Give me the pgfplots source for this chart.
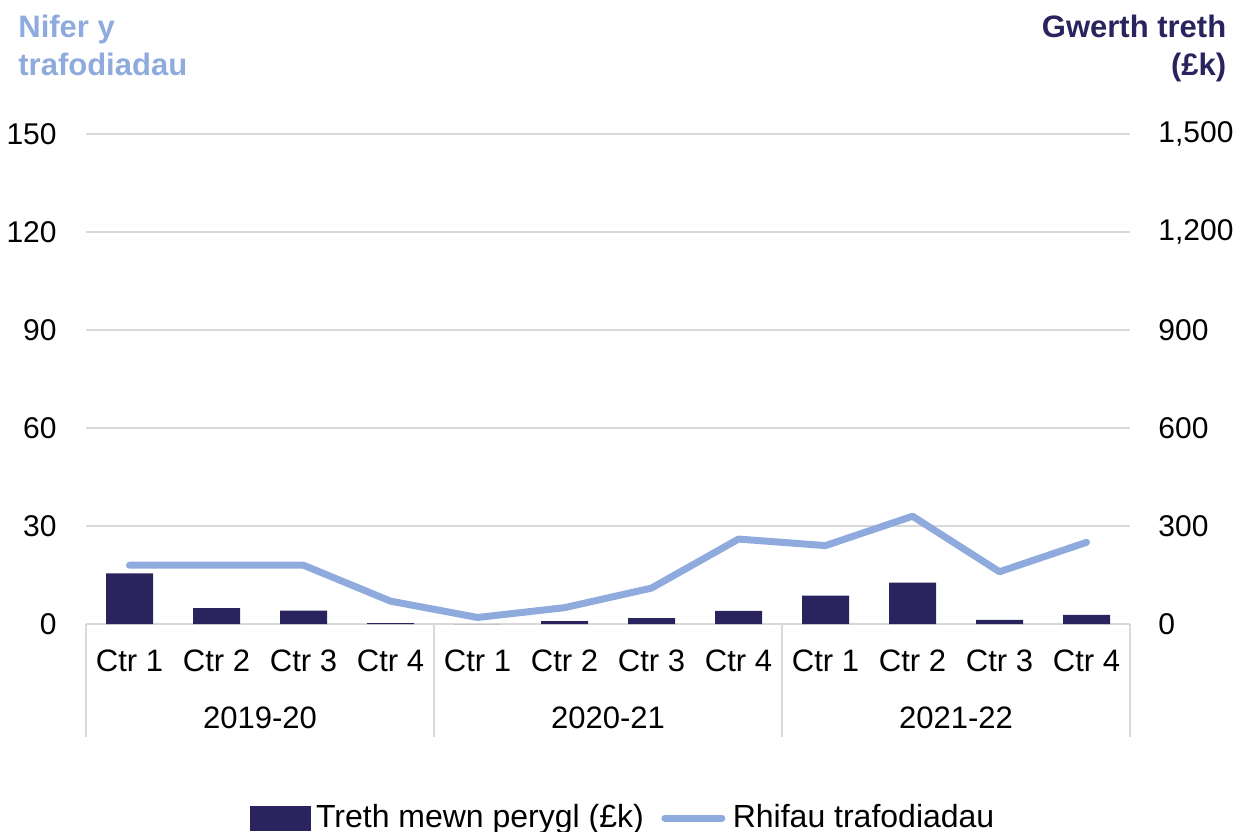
\documentclass[border=0pt]{standalone}
\usepackage{pgfplots}
\pgfplotsset{compat=1.18}
\usepackage{fontspec}
\setmainfont{Liberation Sans}
\definecolor{navy}{RGB}{41,36,94}
\definecolor{lblue}{RGB}{143,170,220}
\definecolor{gridgray}{RGB}{217,217,217}
\begin{document}
\fontsize{15}{18}\selectfont
\begin{tikzpicture}
\path[use as bounding box] (-43pt,-103.5pt) rectangle (577pt,312pt);
% bars: right axis (tax value, £k)
\begin{axis}[
  at={(0,0)}, anchor=south west,
  scale only axis, width=522pt, height=245pt,
  xmin=-0.5, xmax=11.5, ymin=0, ymax=1500,
  axis y line*=right,
  axis line style={draw=none},
  major tick length=0pt,
  ytick={0,300,600,900,1200,1500},
  yticklabel style={anchor=west, inner sep=0pt, xshift=14pt},
  /pgf/number format/1000 sep={,},
  /pgf/number format/assume math mode=true,
  ymajorgrids, grid style={gridgray, line width=0.8pt},
  xtick={0,...,11},
  xticklabels={Ctr 1,Ctr 2,Ctr 3,Ctr 4,Ctr 1,Ctr 2,Ctr 3,Ctr 4,Ctr 1,Ctr 2,Ctr 3,Ctr 4},
  xticklabel style={anchor=center, inner sep=0pt, yshift=-18.5pt, font=\fontsize{15.5}{18}\selectfont},
  clip=false,
  font=\fontsize{15}{18}\selectfont,
]
\addplot[ybar, bar width=23.5pt, fill=navy, draw=none] coordinates {
  (0,155) (1,49) (2,41) (3,3)
  (4,0) (5,9) (6,18) (7,40)
  (8,87) (9,127) (10,13) (11,28)
};
\draw[gridgray, line width=0.8pt] (axis cs:-0.5,0) -- ++(0pt,-56.5pt);
\draw[gridgray, line width=0.8pt] (axis cs:3.5,0) -- ++(0pt,-56.5pt);
\draw[gridgray, line width=0.8pt] (axis cs:7.5,0) -- ++(0pt,-56.5pt);
\draw[gridgray, line width=0.8pt] (axis cs:11.5,0) -- ++(0pt,-56.5pt);
\node[anchor=center, font=\fontsize{15.5}{18}\selectfont] at (axis cs:1.5,0) [yshift=-47pt] {2019-20};
\node[anchor=center, font=\fontsize{15.5}{18}\selectfont] at (axis cs:5.5,0) [yshift=-47pt] {2020-21};
\node[anchor=center, font=\fontsize{15.5}{18}\selectfont] at (axis cs:9.5,0) [yshift=-47pt] {2021-22};
\node[anchor=north west, align=left, font=\fontsize{15.5}{19}\selectfont\bfseries, text=lblue, inner sep=0pt]
  at (rel axis cs:0,1) [xshift=-34pt, yshift=59.5pt] {Nifer y\\trafodiadau};
\node[anchor=north east, align=right, font=\fontsize{15.5}{19}\selectfont\bfseries, text=navy, inner sep=0pt]
  at (rel axis cs:1,1) [xshift=48.3pt, yshift=59.5pt] {Gwerth treth\\(£k)};
\end{axis}
% line: left axis (number of transactions)
\begin{axis}[
  at={(0,0)}, anchor=south west,
  scale only axis, width=522pt, height=245pt,
  xmin=-0.5, xmax=11.5, ymin=0, ymax=150,
  axis y line*=left,
  axis line style={draw=none},
  major tick length=0pt,
  xtick=\empty,
  ytick={0,30,60,90,120,150},
  yticklabel style={anchor=east, inner sep=0pt, xshift=-14.5pt},
  /pgf/number format/assume math mode=true,
  clip=false,
  font=\fontsize{15}{18}\selectfont,
  legend columns=2,
  legend style={at={(0.5,0)}, anchor=center, xshift=8pt, yshift=-97pt,
    draw=none, fill=none, font=\fontsize{16}{19}\selectfont,
    /tikz/every even column/.append style={column sep=6pt}},
]
\addlegendimage{legend image code/.code={\fill[navy] (0pt,-6pt) rectangle (30pt,6pt); \path[draw=none] (0pt,0pt) -- (31pt,0pt);}}
\addlegendentry{Treth mewn perygl (£k)}
\addplot[lblue, line width=3.5pt, line cap=round, line join=round,
  legend image code/.code={\draw[lblue, line width=3.5pt, line cap=round] (2.5pt,0pt) -- (31pt,0pt); \path[draw=none] (0pt,0pt) -- (34.5pt,0pt);}] coordinates {
  (0,18) (1,18) (2,18) (3,7)
  (4,2) (5,5) (6,11) (7,26)
  (8,24) (9,33) (10,16) (11,25)
};
\addlegendentry{Rhifau trafodiadau}
\end{axis}
\end{tikzpicture}
\end{document}
